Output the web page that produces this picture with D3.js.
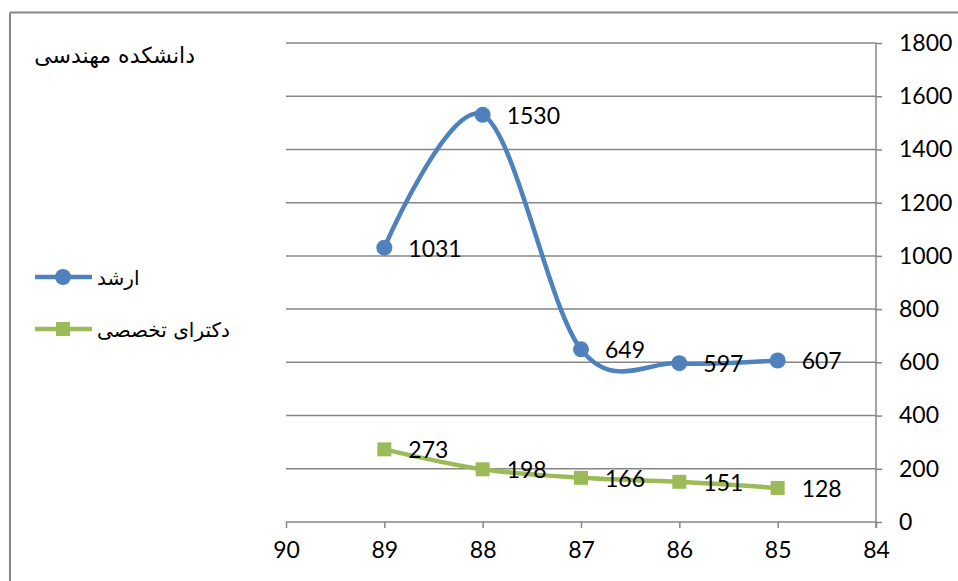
<!DOCTYPE html>
<html><head><meta charset="utf-8">
<script src="https://cdn.jsdelivr.net/npm/d3@7"></script>
<style>body{margin:0;background:#fff}svg{display:block}</style>
</head><body>
<svg id="c" width="958" height="581"></svg>
<script>
const years = [89, 88, 87, 86, 85];
const arshad = [1031, 1530, 649, 597, 607];
const doctora = [273, 198, 166, 151, 128];
const seriesNames = ["ارشد", "دکترای تخصصی"];
const title = "دانشکده مهندسی";
const xTicks = [90, 89, 88, 87, 86, 85, 84];
const yTicks = [0, 200, 400, 600, 800, 1000, 1200, 1400, 1600, 1800];

const svg = d3.select("#c");
const x = d3.scaleLinear().domain([90, 84]).range([286, 876]);
const y = d3.scaleLinear().domain([0, 1800]).range([522, 43]);
const gray = "#868686";
const font = "Lato, 'Open Sans', sans-serif";

// frame (top & left visible)
svg.append("path").attr("d", "M10,12.5 H960 M10,12.5 V585")
  .attr("fill", "none").attr("stroke", gray).attr("stroke-width", 2);

// gridlines
svg.append("g").selectAll("line").data(yTicks.filter(d => d > 0)).join("line")
  .attr("x1", x(90)).attr("x2", x(84)).attr("y1", d => y(d)).attr("y2", d => y(d))
  .attr("stroke", gray).attr("stroke-width", 1.5);

// y axis (right)
const ya = svg.append("g").attr("transform", `translate(${x(84)},0)`)
  .call(d3.axisRight(y).tickValues(yTicks).tickFormat(d3.format("d")).tickSize(6).tickPadding(17));
// x axis
const xa = svg.append("g").attr("transform", `translate(0,${y(0)})`)
  .call(d3.axisBottom(x).tickValues(xTicks).tickFormat(d3.format("d")).tickSize(6).tickPadding(14));
[ya, xa].forEach(a => {
  a.select(".domain").attr("stroke", gray).attr("stroke-width", 1.5);
  a.selectAll(".tick line").attr("stroke", gray).attr("stroke-width", 1.5);
  a.selectAll("text").attr("font-family", font).attr("font-size", 23).attr("fill", "#000");
});
ya.select(".domain").attr("d", `M0,${y(1800)}V${y(0)+6}`);
xa.select(".domain").attr("d", `M${x(90)},0H${x(84)}`);

const line = d3.line().x((d, i) => x(years[i])).y(d => y(d)).curve(d3.curveCardinal.tension(0));

const blue = "#4F81BD", green = "#9BBB59";
// green series
svg.append("path").datum(doctora).attr("d", line).attr("fill", "none")
  .attr("stroke", green).attr("stroke-width", 4.5);
svg.append("g").selectAll("rect").data(doctora).join("rect")
  .attr("x", (d, i) => x(years[i]) - 7).attr("y", d => y(d) - 7)
  .attr("width", 14).attr("height", 14).attr("fill", green);
// blue series
svg.append("path").datum(arshad).attr("d", line).attr("fill", "none")
  .attr("stroke", blue).attr("stroke-width", 4.5);
svg.append("g").selectAll("circle").data(arshad).join("circle")
  .attr("cx", (d, i) => x(years[i])).attr("cy", d => y(d)).attr("r", 8).attr("fill", blue);

// data labels
[arshad, doctora].forEach(s => {
  svg.append("g").selectAll("text").data(s).join("text")
    .attr("x", (d, i) => x(years[i]) + 24).attr("y", d => y(d) + 9)
    .attr("font-family", font).attr("font-size", 23).attr("fill", "#000")
    .text(d => d);
});

// title
svg.append("text").attr("x", 195).attr("y", 63).attr("text-anchor", "end")
  .attr("font-family", "'DejaVu Sans', serif").attr("font-size", 22).attr("fill", "#000")
  .text(title);

// legend
const lg = svg.append("g");
[[blue, "c", 277], [green, "s", 329]].forEach(([col, m, ly], i) => {
  lg.append("line").attr("x1", 35).attr("x2", 92).attr("y1", ly).attr("y2", ly)
    .attr("stroke", col).attr("stroke-width", 4.5);
  if (m === "c") lg.append("circle").attr("cx", 63).attr("cy", ly).attr("r", 8).attr("fill", col);
  else lg.append("rect").attr("x", 56).attr("y", ly - 7).attr("width", 14).attr("height", 14).attr("fill", col);
  lg.append("text").attr("x", 97).attr("y", ly + 8).attr("text-anchor", "start")
    .attr("font-family", "'DejaVu Sans', serif").attr("font-size", 20).attr("fill", "#000")
    .text(seriesNames[i]);
});
</script>
</body></html>
